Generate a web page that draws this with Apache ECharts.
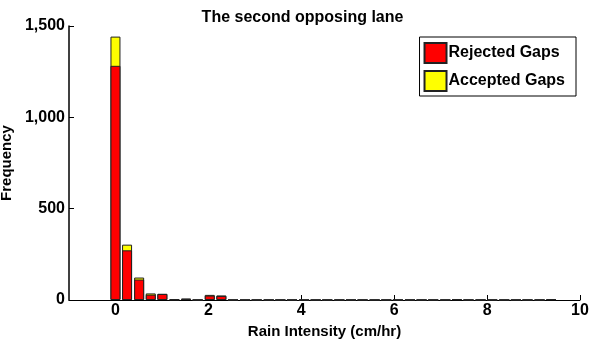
<!DOCTYPE html>
<html>
<head>
<meta charset="utf-8">
<script src="https://cdn.jsdelivr.net/npm/echarts@6/dist/echarts.min.js"></script>
<style>
html,body{margin:0;padding:0;background:#fff;}
#chart{width:605px;height:350px;}
</style>
</head>
<body>
<div id="chart"></div>
<script>
// Bin centers (cm/hr)
var binCenters = [0, 0.25, 0.51, 0.76, 1.01, 1.27, 1.52, 1.77, 2.03, 2.28,
  2.53, 2.79, 3.04, 3.30, 3.55, 3.80, 4.06, 4.31, 4.56, 4.82,
  5.07, 5.32, 5.58, 5.83, 6.08, 6.34, 6.59, 6.84, 7.10, 7.35,
  7.60, 7.86, 8.11, 8.37, 8.62, 8.87, 9.13, 9.38];
var rejected = [1282, 272, 112, 29, 33, 3, 7, 0, 24, 22,
  0, 0, 0, 0, 0, 0, 0, 0, 0, 0,
  0, 0, 0, 0, 0, 0, 0, 0, 0, 4,
  0, 0, 0, 0, 0, 0, 0, 4];
var accepted = [160, 31, 11, 7, 1, 0, 1, 0, 4, 3,
  0, 0, 0, 0, 0, 0, 0, 0, 0, 0,
  0, 0, 0, 0, 0, 0, 0, 0, 0, 0,
  0, 0, 0, 0, 0, 0, 0, 0];
var xTicks = [0, 2, 4, 6, 8, 10];
var yTicks = [0, 500, 1000, 1500];
var xMin = -1, xMax = 10;

var FONT = 'Liberation Sans, Arial, sans-serif';
var rejectedData = binCenters.map(function(x,i){ return [x, rejected[i]]; });
var totalData = binCenters.map(function(x,i){ return [x, rejected[i] + accepted[i]]; });

var chart = echarts.init(document.getElementById('chart'), null, {renderer:'canvas'});
chart.setOption({
  animation: false,
  backgroundColor: '#fff',
  title: {
    text: 'The second opposing lane',
    left: 'center', top: 5,
    textStyle: {fontFamily: FONT, fontWeight: 'bold', fontSize: 16, color: '#000'}
  },
  legend: {
    orient: 'vertical', right: 29, top: 37,
    backgroundColor: '#fff', borderColor: '#000', borderWidth: 1,
    padding: [5, 11, 4, 4], itemGap: 6, itemWidth: 22, itemHeight: 20,
    icon: 'rect',
    textStyle: {fontFamily: FONT, fontWeight: 'bold', fontSize: 16, color: '#000', padding: [0,0,0,-3]},
    data: ['Rejected Gaps', 'Accepted Gaps']
  },
  grid: {left: 69, right: 25, top: 26, bottom: 50, outerBoundsMode: 'none'},
  xAxis: {
    type: 'value', min: xMin, max: xMax,
    name: 'Rain Intensity (cm/hr)', nameLocation: 'middle', nameGap: 19,
    nameTextStyle: {fontFamily: FONT, fontWeight: 'bold', fontSize: 15, color: '#000'},
    axisLine: {show: true, onZero: false, lineStyle: {color: '#000', width: 1}},
    axisTick: {show: true, inside: true, length: 5, customValues: xTicks, lineStyle: {color: '#000'}},
    axisLabel: {customValues: xTicks, margin: 3, fontFamily: FONT, fontWeight: 'bold', fontSize: 16, color: '#000'},
    splitLine: {show: false}
  },
  yAxis: {
    type: 'value', min: yTicks[0], max: yTicks[yTicks.length - 1], interval: 500,
    name: 'Frequency', nameLocation: 'middle', nameGap: 44,
    nameTextStyle: {fontFamily: FONT, fontWeight: 'bold', fontSize: 15, color: '#000'},
    axisLine: {show: true, onZero: false, lineStyle: {color: '#000', width: 1.5}},
    axisTick: {show: true, inside: true, length: 5, lineStyle: {color: '#000', width: 1}},
    axisLabel: {margin: 4, fontFamily: FONT, fontWeight: 'bold', fontSize: 16, color: '#000'},
    splitLine: {show: false}
  },
  series: [
    {
      name: 'Accepted Gaps', type: 'bar', barWidth: 10, barGap: '-100%',
      itemStyle: {color: '#ffff00', borderColor: '#222', borderWidth: 1},
      data: totalData
    },
    {
      name: 'Rejected Gaps', type: 'bar', barWidth: 10, barGap: '-100%',
      itemStyle: {color: '#ff0000', borderColor: '#222', borderWidth: 1},
      data: rejectedData
    }
  ]
});
</script>
</body>
</html>
